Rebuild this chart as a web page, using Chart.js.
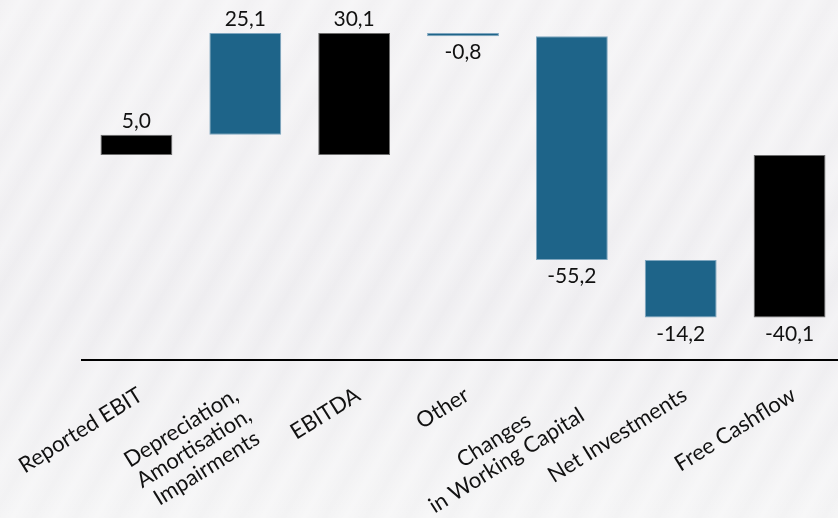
<!DOCTYPE html>
<html><head><meta charset="utf-8">
<script src="https://cdn.jsdelivr.net/npm/chart.js@4.4.1/dist/chart.umd.min.js"></script>
<style>
html,body{margin:0;padding:0;overflow:hidden;width:838px;height:518px;}
body{
  background-color:#efeef1;
  background-image:
    repeating-linear-gradient(120deg, rgba(255,255,255,0) 0px, rgba(255,255,255,0.35) 18px, rgba(255,255,255,0) 36px),
    linear-gradient(180deg, #f2f1f3 0%, #eeedf0 60%, #f3f3f4 100%);
}
canvas{display:block}
</style></head><body>
<canvas id="c" width="844" height="518"></canvas>
<script>
// ---- data ----
const categories = [
  ['Reported EBIT'],
  ['Depreciation,', 'Amortisation,', 'Impairments'],
  ['EBITDA'],
  ['Other'],
  ['Changes', 'in Working Capital'],
  ['Net Investments'],
  ['Free Cashflow']
];
const values = [5.0, 25.1, 30.1, -0.8, -55.2, -14.2, -40.1];
const isTotal = [true, false, true, false, false, false, true];

// ---- build floating ranges ----
const ranges = [];
let running = 0;
values.forEach((v, i) => {
  if (isTotal[i]) { ranges.push([0, v]); running = v; }
  else { ranges.push([running, +(running + v).toFixed(1)]); running = +(running + v).toFixed(1); }
});
const fmt = v => v.toFixed(1).replace('.', ',');

const TOTAL_COLOR = '#000000';
const DELTA_COLOR = '#1e6489';
const FONT = 'Lato, "Open Sans", sans-serif';

const valueLabelPlugin = {
  id: 'valueLabels',
  afterDatasetsDraw(chart) {
    const ctx = chart.ctx;
    const meta = chart.getDatasetMeta(0);
    ctx.save();
    ctx.font = '21px ' + FONT;
    ctx.fillStyle = '#111';
    ctx.textAlign = 'center';
    meta.data.forEach((bar, i) => {
      const top = Math.min(bar.y, bar.base), bottom = Math.max(bar.y, bar.base);
      if (values[i] >= 0) { ctx.textBaseline = 'bottom'; ctx.fillText(fmt(values[i]), bar.x, top - 3); }
      else { ctx.textBaseline = 'top'; ctx.fillText(fmt(values[i]), bar.x, bottom + 6); }
    });
    ctx.restore();
  }
};

const tickLabelPlugin = {
  id: 'tickLabels',
  afterDraw(chart) {
    const ctx = chart.ctx;
    const xs = chart.scales.x;
    const deg = 32;
    const ang = -deg * Math.PI / 180;
    const c = Math.cos(deg * Math.PI / 180);
    const lh = 24;
    ctx.save();
    ctx.font = '22px ' + FONT;
    ctx.fillStyle = '#111';
    ctx.textBaseline = 'middle';
    ctx.textAlign = 'center';
    categories.forEach((lines, i) => {
      const x = xs.getPixelForTick(i);
      const n = lines.length;
      const w = Math.max(...lines.map(l => ctx.measureText(l).width));
      ctx.save();
      ctx.translate(x + 4, xs.bottom + 33 + c * (n - 1) * lh / 2);
      ctx.rotate(ang);
      lines.forEach((l, j) => ctx.fillText(l, -w / 2, (j - (n - 1) / 2) * lh));
      ctx.restore();
    });
    ctx.restore();
  }
};

new Chart(document.getElementById('c'), {
  type: 'bar',
  data: {
    labels: categories.map(c => c.join(' ')),
    datasets: [{
      data: ranges,
      backgroundColor: isTotal.map(t => t ? TOTAL_COLOR : DELTA_COLOR),
      borderColor: isTotal.map(t => t ? '#6d6d6d' : '#7fa6bf'),
      borderWidth: 1,
      borderSkipped: false,
      barPercentage: 0.66,
      categoryPercentage: 1.0
    }]
  },
  options: {
    responsive: false,
    animation: false,
    layout: { padding: { left: 82, right: 0, top: 5, bottom: 158 } },
    plugins: { legend: { display: false }, tooltip: { enabled: false } },
    scales: {
      x: {
        grid: { display: false, drawTicks: false },
        border: { display: true, color: '#000', width: 2 },
        ticks: { display: false }
      },
      y: { display: false, min: -50.6, max: 37 }
    }
  },
  plugins: [valueLabelPlugin, tickLabelPlugin]
});
</script>
</body></html>
